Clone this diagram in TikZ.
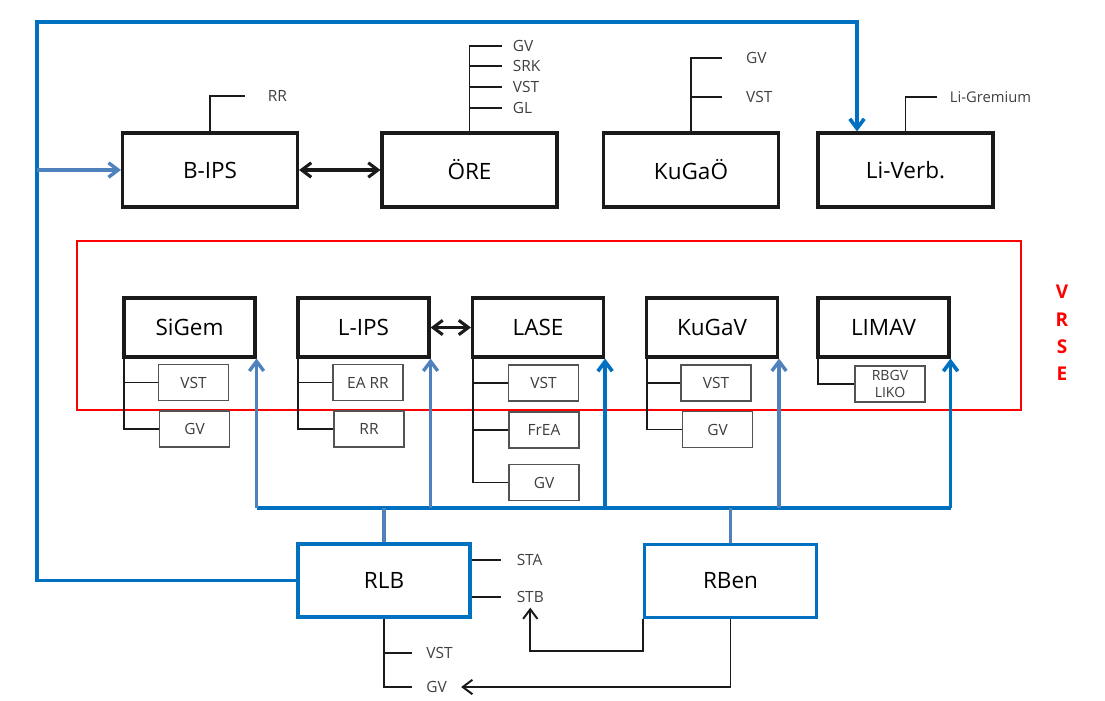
\documentclass[tikz,border=0pt]{standalone}
\usepackage{fontspec}
\setmainfont{Open Sans}
\usetikzlibrary{arrows.meta}
\definecolor{ink}{HTML}{1A1A1A}
\definecolor{note}{HTML}{404040}
\definecolor{dblue}{HTML}{0070C0}
\definecolor{lblue}{HTML}{4F81BD}
\definecolor{vred}{HTML}{FF0000}

\begin{document}
\begin{tikzpicture}[x=0.025cm,y=-0.025cm,
  >={Straight Barb[length=2.4mm,width=3.6mm]},
  org/.style={draw=ink,line width=2.2pt,inner sep=0pt,
    minimum width=4.375cm,minimum height=1.85cm,
    font=\fontsize{16}{18}\selectfont},
  unit/.style={draw=ink,line width=2.2pt,inner sep=0pt,
    minimum width=3.275cm,minimum height=1.475cm,
    font=\fontsize{16}{18}\selectfont},
  reg/.style={draw=dblue,line width=2.3pt,inner sep=0pt,
    minimum width=4.3cm,minimum height=1.825cm,
    font=\fontsize{16}{18}\selectfont},
  sub/.style={draw=ink!75,line width=1.1pt,inner sep=0pt,
    minimum width=1.75cm,minimum height=0.9cm,
    font=\fontsize{11}{12}\selectfont,text=ink!85},
  lbl/.style={anchor=west,inner xsep=#1,
    font=\fontsize{11}{12}\selectfont,text=note},
  lbl/.default=8pt,
  tree/.style={draw=ink,line width=1.4pt},
  link/.style={ink,line width=2.2pt,<->},
  bluea/.style={dblue,line width=2.6pt},
  blueb/.style={lblue,line width=2.4pt}]
  \useasboundingbox (0,0) rectangle (1105,700);

  % upper row
  \node[org] (bips)   at (210,170)   {B-IPS};
  \node[org] (ore)    at (469.5,170) {ÖRE};
  \node[org] (kugao)  at (691,170)   {KuGaÖ};
  \node[org] (liverb) at (905.5,170) {Li-Verb.};
  \draw[link] (bips) -- (ore);

  \node[lbl=16pt] (bipsrr) at (245,96) {RR};
  \draw[tree] (bips.north) |- (bipsrr.west);
  \foreach \t/\y/\n in {GV/46/a,SRK/66/b,VST/87/c,GL/108/d}{
    \node[lbl=7.5pt] (ore\n) at (502,\y) {\t};
    \draw[tree] (ore.north) |- (ore\n.west);
  }
  \foreach \t/\y/\n in {GV/58/a,VST/97/b}{
    \node[lbl=17pt] (kugao\n) at (722,\y) {\t};
    \draw[tree] (kugao.north) |- (kugao\n.west);
  }
  \node[lbl=9pt,font=\fontsize{10.5}{12}\selectfont] (ligrem) at (937,97)
    {Li-Gremium};
  \draw[tree] (liverb.north) |- (ligrem.west);

  % VRSE frame
  \draw[vred,line width=1.6pt] (77,241) rectangle (1021,410);
  \node[text=vred,font=\bfseries\fontsize{13.5}{19.4}\selectfont,align=center]
    (vrse) at (1062,333) {V\\R\\S\\E};

  \foreach \n/\t/\x in {sigem/SiGem/189.5,lips/L-IPS/363.5,lase/LASE/538,
      kugav/KuGaV/712,limav/LIMAV/883.5}
    \node[unit] (\n) at (\x,327.5) {\t};
  \draw[link] (lips) -- (lase);

  \node[sub] (sgvst)  at (193.5,382.5) {VST};
  \node[sub] (sggv)   at (194.5,429)   {GV};
  \node[sub] (lpea)   at (368,382.5)   {EA RR};
  \node[sub] (lprr)   at (369,429)     {RR};
  \node[sub] (lsvst)  at (543.5,383)   {VST};
  \node[sub] (lsfrea) at (544,430)     {FrEA};
  \node[sub] (lsgv)   at (544,482.5)   {GV};
  \node[sub] (kvvst)  at (716,383)     {VST};
  \node[sub] (kvgv)   at (717.5,429.5) {GV};
  \node[sub,font=\fontsize{10}{12}\selectfont,align=center] (lmrb)
    at (890,384) {RBGV\\LIKO};
  \foreach \a/\b in {sigem/sgvst,sigem/sggv,lips/lpea,lips/lprr,
      lase/lsvst,lase/lsfrea,lase/lsgv,kugav/kvvst,kugav/kvgv,limav/lmrb}
    \draw[tree] (\a.south west) ++(2,0) |- (\b.west);

  % bus to the VRSE units
  \coordinate (bus) at (0,508);
  \draw[bluea] (sigem.south east |- bus) -- (limav.south east |- bus);
  \foreach \n/\s in {sigem/blueb,lips/blueb,lase/bluea,kugav/blueb,limav/bluea}
    \draw[\s,->] (\n.south east |- bus) -- (\n.south east);

  % lower row
  \node[reg] (rlb)  at (384,580.5) {RLB};
  \node[reg] (rben) at (730.5,581) {RBen};
  \draw[blueb] (rlb) -- (rlb |- bus);
  \draw[blueb] (rben) -- (rben |- bus);

  \coordinate (corner) at (37,22);
  \draw[bluea,->] (rlb.west) -| (corner) -| ([xshift=-1.2125cm]liverb.north);
  \draw[blueb,->] (corner |- bips.west) -- (bips.west);

  \node[lbl=11pt] (sta) at (501,560) {STA};
  \node[lbl=11pt] (stb) at (501,597) {STB};
  \draw[tree] (sta.west -| rlb.east) -- (sta.west);
  \draw[tree] (stb.west -| rlb.east) -- (stb.west);
  \node[lbl=10pt] (rvst) at (412,653) {VST};
  \node[lbl=10pt] (rgv)  at (412,687) {GV};
  \draw[tree] (rlb.south) |- (rvst.west);
  \draw[tree] (rlb.south) |- (rgv.west);

  \draw[tree,->] (rben.south west) -- ++(0,32) -| (stb.south);
  \draw[tree,->] (rben.south) |- (rgv.east);
\end{tikzpicture}
\end{document}
